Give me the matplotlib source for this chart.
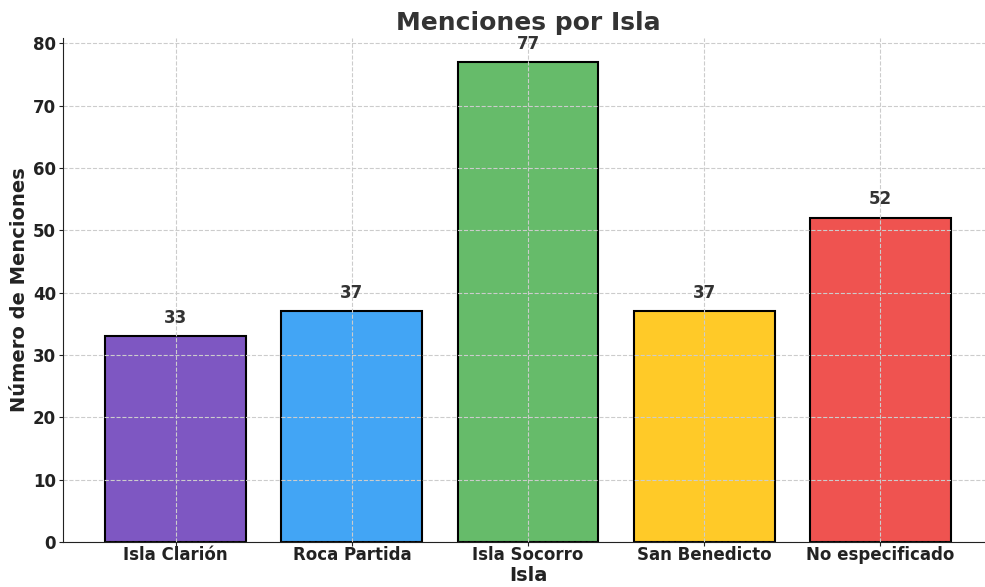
import matplotlib
matplotlib.use("Agg")
import matplotlib.pyplot as plt

# Menciones por isla
islas = ['Isla Clarión', 'Roca Partida', 'Isla Socorro', 'San Benedicto', 'No especificado']
menciones = [33, 37, 77, 37, 52]
colores = ['#7E57C2', '#42A5F5', '#66BB6A', '#FFCA28', '#EF5350']

plt.rcParams['font.family'] = ['DejaVu Sans']

fig = plt.figure(figsize=(9.85, 5.87), dpi=100)
ax = fig.add_axes([63 / 985, 45 / 587, 930 / 985, 504 / 587])

bars = ax.bar(islas, menciones, color=colores, edgecolor='black', linewidth=1.5, width=0.8)

# Etiquetas de valor encima de cada barra
for bar, val in zip(bars, menciones):
    ax.text(bar.get_x() + bar.get_width() / 2, bar.get_height() + 1.5, str(val),
            ha='center', va='bottom', fontsize=12, fontweight='bold', color='#333333')

ax.set_title('Menciones por Isla', fontsize=18, fontweight='bold', color='#333333', pad=6)
ax.set_xlabel('Isla', fontsize=14, fontweight='bold', color='#222222', labelpad=1)
ax.set_ylabel('Número de Menciones', fontsize=14, fontweight='bold', color='#222222', labelpad=3)

ax.grid(True, linestyle='--', color='#cccccc', linewidth=0.8)
ax.set_yticks(range(0, 81, 10))
ax.tick_params(axis='both', labelsize=12, colors='#222222', length=3, pad=2)
ax.tick_params(axis='x', pad=0)
for lbl in ax.get_xticklabels() + ax.get_yticklabels():
    lbl.set_fontweight('bold')

ax.spines['top'].set_visible(False)
ax.spines['right'].set_visible(False)
ax.spines['left'].set_color('#222222')
ax.spines['bottom'].set_color('#222222')

plt.savefig('out.png', dpi=100)
